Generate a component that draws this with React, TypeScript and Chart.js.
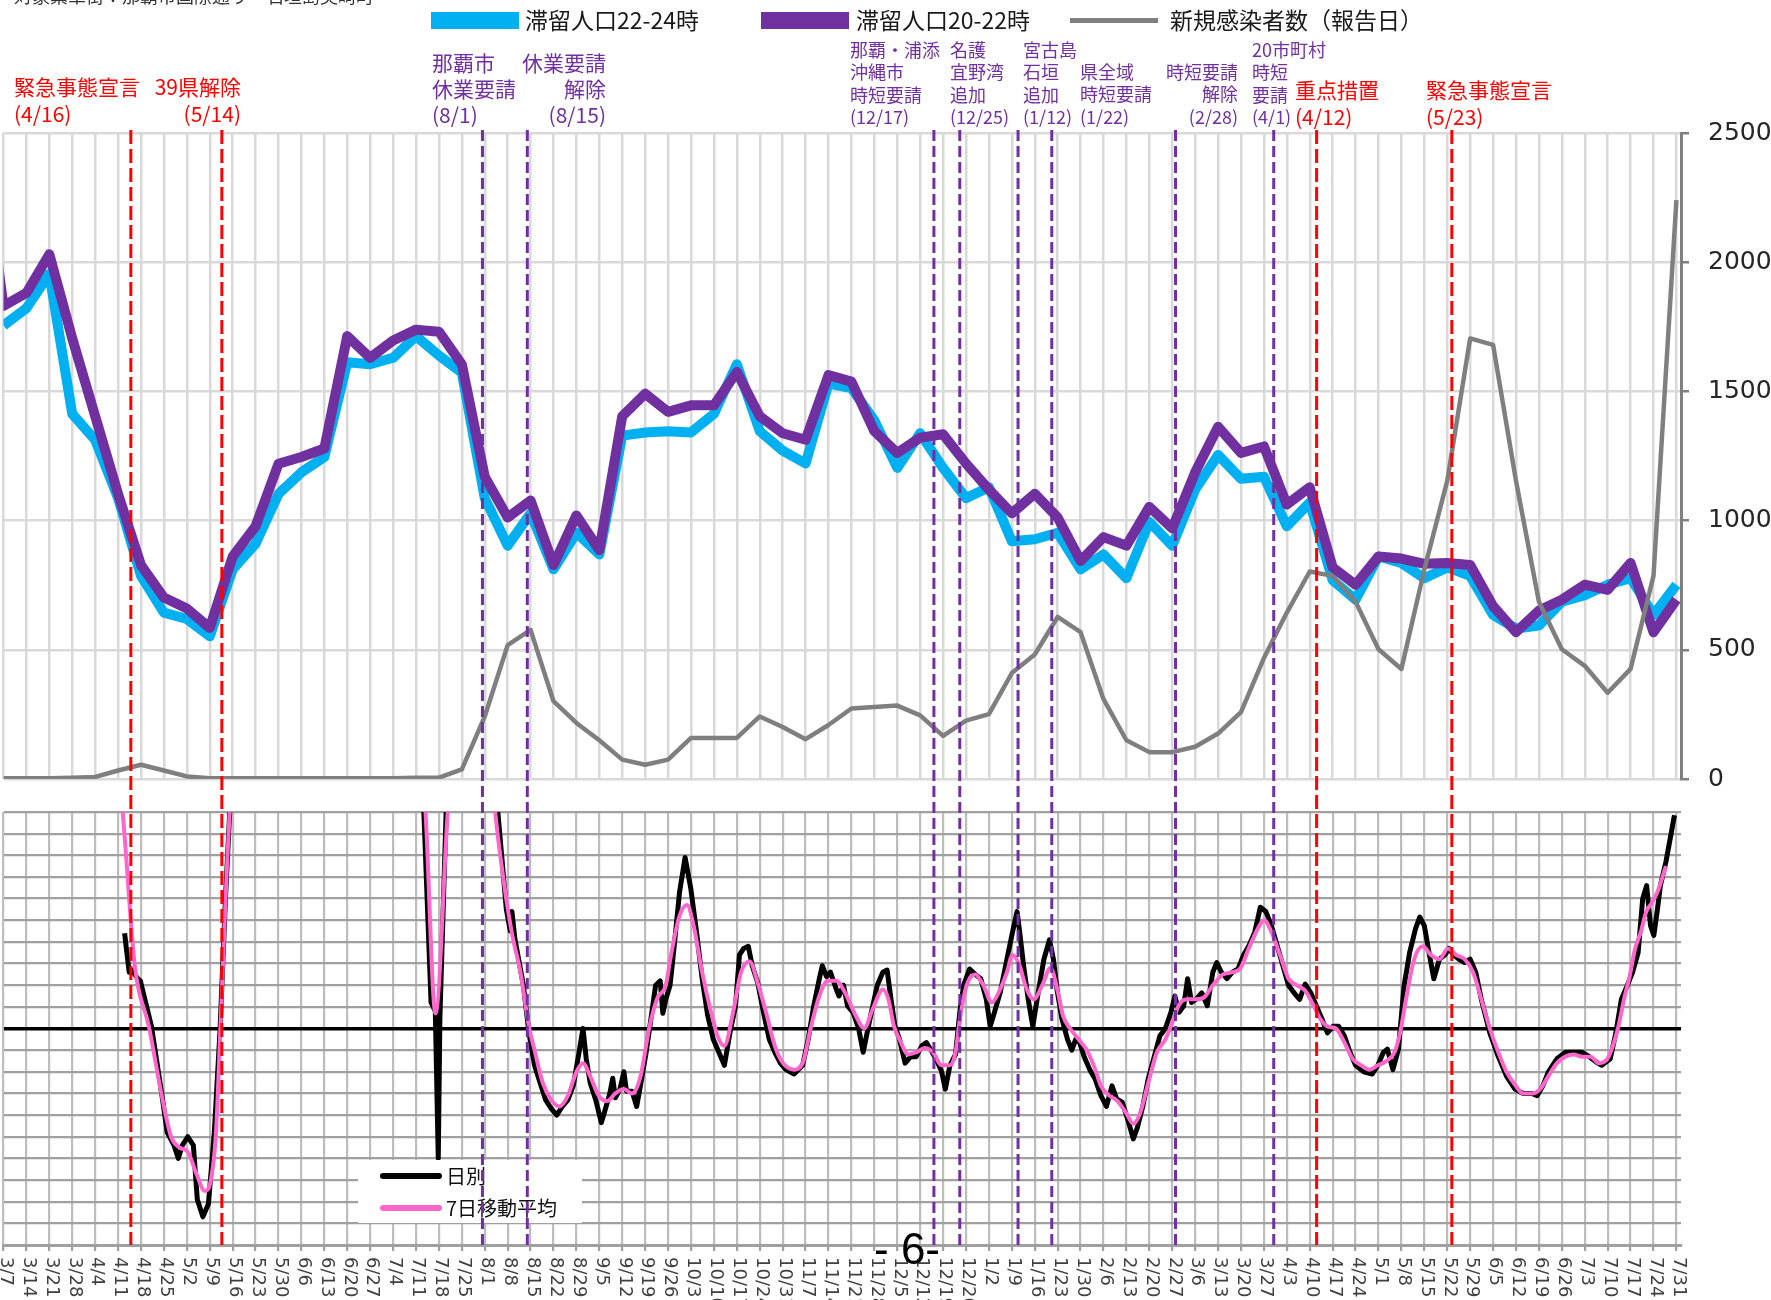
import React, { useEffect, useRef } from 'react';
import { Chart, registerables } from 'chart.js';

Chart.register(...registerables);

// ---------------- data ----------------
const weekLabels = [
  '3/7', '3/14', '3/21', '3/28', '4/4', '4/11', '4/18', '4/25', '5/2', '5/9', '5/16', '5/23', '5/30',
  '6/6', '6/13', '6/20', '6/27', '7/4', '7/11', '7/18', '7/25', '8/1', '8/8', '8/15', '8/22', '8/29',
  '9/5', '9/12', '9/19', '9/26', '10/3', '10/10', '10/17', '10/24', '10/31', '11/7', '11/14', '11/21', '11/28',
  '12/5', '12/12', '12/19', '12/26', '1/2', '1/9', '1/16', '1/23', '1/30', '2/6', '2/13', '2/20', '2/27',
  '3/6', '3/13', '3/20', '3/27', '4/3', '4/10', '4/17', '4/24', '5/1', '5/8', '5/15', '5/22', '5/29',
  '6/5', '6/12', '6/19', '6/26', '7/3', '7/10', '7/17', '7/24', '7/31',
];
// days since 2020-03-07 for each weekly label
const weekDays = weekLabels.map((_, i) => i * 7);

// 滞留人口22-24時 (weekly)
const stay2224 = [
  1755, 1822, 1955, 1413, 1312, 1087, 786, 644, 619, 552, 811, 911, 1103, 1187, 1246, 1613, 1605, 1630, 1714, 1639,
  1572, 1087, 903, 1028, 811, 953, 869, 1329, 1341, 1346, 1341, 1413, 1605, 1346, 1271, 1221, 1530, 1513, 1388, 1204,
  1338, 1204, 1087, 1129, 920, 928, 953, 811, 869, 777, 995, 903, 1120, 1254, 1162, 1170, 978, 1070, 769, 694,
  861, 836, 777, 819, 786, 635, 582, 594, 686, 711, 752, 777, 635, 752,
];
// 滞留人口20-22時 (weekly)
const stay2022 = [
  1831, 1881, 2031, 1705, 1404, 1103, 828, 702, 660, 585, 861, 978, 1220, 1246, 1279, 1714, 1630, 1697, 1739, 1731,
  1605, 1170, 1012, 1078, 828, 1020, 886, 1404, 1491, 1421, 1446, 1446, 1575, 1404, 1338, 1313, 1563, 1538, 1346, 1262,
  1321, 1334, 1221, 1120, 1028, 1104, 1012, 844, 936, 903, 1053, 970, 1187, 1363, 1262, 1287, 1062, 1129, 819, 752,
  861, 853, 833, 836, 828, 669, 568, 652, 694, 752, 732, 836, 568, 694,
];
const stay2022Before = 2500; // week before 3/7 (2/29), outside the axis
// 新規感染者数（報告日） (weekly)
const newCases = [
  3, 3, 3, 5, 8, 33, 55, 33, 10, 3, 3, 3, 3, 3, 3, 3, 3, 3, 5, 5,
  37, 242, 518, 577, 301, 217, 150, 75, 55, 75, 159, 159, 159, 242, 201, 154, 209, 273, 279, 284,
  246, 167, 226, 251, 410, 482, 627, 568, 309, 150, 104, 104, 125, 176, 259, 468, 644, 803, 786, 686,
  502, 426, 811, 1154, 1705, 1680, 1154, 686, 502, 438, 334, 426, 786, 2240,
];

// lower panel: 日別 [day, value]
const dailyA = [
  [37.0, 4.4], [37.6, 3.6], [38.4, 2.6], [39.2, 2.7], [41.0, 2.3], [41.8, 2.2], [45.2, 0.1], [48.6, -3.3], [50.0, -4.8],
  [52.1, -5.4], [53.4, -6.0], [54.6, -5.4], [56.3, -5.0], [58.0, -5.4], [59.2, -7.9], [60.9, -8.7], [62.6, -8.1],
  [64.4, -4.8], [66.1, -0.2], [67.8, 6.0], [69.1, 10], [71, 15],
];
const dailyB = [[126.5, 15], [128.4, 10], [130.6, 1.2], [131.9, 0.8], [132.8, -6.0], [133.3, 0.5], [135.2, 10], [137, 15]];
const dailyC = [
  [148, 15], [151, 10], [153.6, 5.5], [154.8, 4.5], [155.3, 5.4], [156.2, 4.15], [158.8, 2.0], [160.5, -0.2], [162.2, -1.7],
  [163.9, -2.5], [165.6, -3.3], [167.3, -3.7], [169.0, -4.0], [170.7, -3.6], [172.4, -3.3], [174.1, -2.6], [175.8, -1.1],
  [177.0, 0.0], [178.0, -1.4], [179.2, -2.5], [180.9, -3.3], [182.6, -4.35], [183.5, -3.9], [185.2, -3.0], [186.1, -2.3],
  [186.9, -3.2], [188.3, -2.8], [189.5, -2.0], [190.3, -2.9], [192.0, -2.9], [193.4, -3.6], [194.6, -2.6], [196.3, -1.1],
  [198.0, 0.7], [199.2, 2.0], [200.6, 2.2], [201.4, 0.7], [202.3, 1.35], [203.6, 2.0], [204.8, 3.7], [206.5, 6.3],
  [208.2, 7.9], [209.9, 6.5], [211.7, 4.45], [213.4, 2.3], [215.1, 0.6], [216.8, -0.5], [218.5, -1.1], [220.2, -1.7],
  [221.9, -0.2], [223.6, 1.05], [224.8, 3.4], [226.1, 3.7], [227.5, 3.8], [228.7, 2.9], [230.4, 2.1], [232.2, 0.7],
  [233.9, -0.5], [235.6, -1.1], [237.3, -1.6], [239.0, -1.9], [241.5, -2.1], [244.1, -1.7], [245.8, -0.5], [247.5, 1.05],
  [249.2, 2.3], [250.1, 2.9], [251.4, 2.4], [252.6, 2.6], [254.4, 1.8], [255.2, 1.5], [256.6, 2.0], [257.8, 1.05],
  [259.5, 0.75], [261.2, 0], [262.6, -1.1], [263.8, -0.2], [265.1, 0.75], [266.9, 2.0], [268.6, 2.6], [269.9, 2.7],
  [271.1, 1.35], [272.3, 0.1], [273.7, -0.5], [275.4, -1.6], [277.1, -1.3], [278.8, -1.3], [280.5, -0.8], [281.9, -0.65],
  [283.1, -0.95], [284.8, -1.4], [286.5, -1.96], [287.7, -2.8], [289.1, -1.7], [290.8, -1.2], [292.1, 0.75], [293.3, 2.0],
  [295.1, 2.75], [296.8, 2.5], [298.5, 2.3], [300.2, 1.35], [301.4, 0.1], [302.7, 0.75], [304.5, 1.7], [306.5, 3.2],
  [308.2, 4.45], [309.6, 5.4], [310.4, 4.45], [311.6, 2.9], [313.0, 1.35], [314.4, 0.1], [316.1, 1.7], [317.8, 3.2],
  [319.5, 4.1], [320.7, 3.2], [321.9, 1.7], [323.3, 0.45], [325.0, -0.5], [326.3, -1.0], [327.5, -0.5], [328.7, -0.65],
  [330.1, -1.3], [331.8, -1.9], [333.5, -2.35], [335.2, -3.1], [336.9, -3.6], [338.6, -2.65], [340.0, -3.25], [341.7, -3.4],
  [343.4, -4.2], [345.1, -5.1], [346.3, -4.6], [348.0, -3.6], [349.7, -2.3], [351.5, -1.3], [353.2, -0.35], [354.9, 0],
  [356.6, 0.75], [357.8, 1.5], [359.1, 0.75], [360.5, 1.05], [361.7, 2.3], [362.9, 1.2], [364.3, 1.35], [366.0, 1.65],
  [367.7, 1.05], [369.4, 2.6], [370.6, 3.05], [372.0, 2.6], [373.7, 2.3], [375.4, 2.6], [377.1, 2.75], [378.8, 3.4],
  [380.5, 3.85], [382.2, 4.45], [383.9, 5.6], [385.6, 5.4], [387.3, 4.75], [389.0, 3.85], [390.8, 2.9], [392.5, 2.0],
  [394.2, 1.65], [395.9, 1.35], [397.6, 2.05], [399.3, 1.65], [401.0, 1.05], [402.7, 0.45], [404.4, -0.2], [406.1, 0.1],
  [407.8, 0.1], [409.6, -0.35], [411.3, -1.1], [413.0, -1.7], [415.5, -2.0], [418.1, -2.1], [419.8, -1.7], [421.5, -1.1],
  [422.7, -0.95], [424.4, -1.9], [426.1, -0.95], [427.8, 1.95], [429.5, 3.5], [431.3, 4.6], [432.6, 5.15], [434.0, 4.75],
  [435.2, 3.7], [436.9, 2.3], [438.6, 3.2], [440.3, 3.4], [441.5, 3.7], [442.9, 3.4], [444.6, 3.2], [446.3, 3.05],
  [448.0, 3.2], [449.7, 2.6], [451.4, 1.35], [454.0, -0.2], [456.6, -1.3], [459.1, -2.2], [461.7, -2.8], [464.2, -3.0],
  [466.8, -3.0], [468.5, -3.1], [470.2, -2.65], [471.9, -2.0], [474.5, -1.4], [477.1, -1.1], [479.6, -1.1], [482.2, -1.1],
  [483.9, -1.25], [486.5, -1.55], [488.2, -1.7], [490.8, -1.4], [492.5, -0.2], [494.2, 1.35], [495.9, 1.95], [497.6, 2.6],
  [499.3, 3.5], [500.7, 6.0], [501.9, 6.6], [503.1, 4.75], [504.1, 4.3], [505.2, 5.5], [506.1, 6.6], [507.8, 7.7],
  [509.5, 9.1], [510.4, 9.85],
];

// lower panel: 7日移動平均 [day, value]
const avgA = [
  [33, 15], [36.4, 10], [40.1, 2.9], [44.4, 0.1], [48.6, -3.3], [51.2, -5.0], [53.8, -5.5], [56.3, -5.7], [58.9, -6.7],
  [61.5, -7.5], [63.2, -7.1], [64.9, -4.8], [66.2, -0.2], [67.4, 4.4], [69.1, 10], [72, 15],
];
const avgB = [[126, 15], [128.9, 10], [131.95, 0.7], [135.7, 10], [138.5, 15]];
const avgC = [
  [147.5, 15], [150.2, 10], [152.8, 6.8], [155.3, 4.4], [157.9, 2.6], [160.5, 0.1], [162.2, -1.0], [164.7, -2.5],
  [167.3, -3.3], [169.8, -3.6], [172.4, -3.1], [175.0, -2.0], [177.0, -1.6], [179.2, -2.2], [181.8, -3.1], [184.4, -3.35],
  [186.9, -3.0], [189.5, -2.8], [192.0, -3.0], [194.6, -2.2], [197.2, 0], [199.7, 1.4], [202.3, 2.0], [203.9, 3.4],
  [206.5, 5.2], [208.8, 5.7], [210.8, 4.75], [213.4, 2.6], [215.9, 0.9], [218.5, -0.5], [220.2, -0.8], [222.8, 0.7],
  [225.3, 2.6], [227.9, 3.1], [230.4, 2.1], [233.0, 0.7], [235.6, -0.8], [238.1, -1.6], [241.5, -1.9], [244.1, -1.6],
  [246.7, 0.1], [249.2, 1.5], [251.8, 2.2], [254.4, 2.2], [256.9, 1.7], [260.3, 0.6], [262.9, 0], [265.5, 0.9],
  [268.6, 1.8], [270.3, 1.35], [272, 0.1], [273.7, -0.5], [276.3, -1.2], [278.8, -1.1], [281.4, -0.9], [283.9, -1.1],
  [286.5, -1.7], [289.1, -1.7], [290.8, -1.1], [292.1, 0.4], [294.2, 2.0], [296.8, 2.5], [299.3, 2.0], [301.9, 1.2],
  [304.1, 1.7], [306.5, 2.6], [308.2, 3.4], [310.4, 2.9], [312.1, 2.0], [314.7, 1.35], [317.3, 2.0], [319.8, 2.8],
  [321.9, 1.8], [323.6, 0.6], [325.8, 0], [328.4, -0.5], [330.9, -1.0], [333.5, -1.9], [335.2, -2.65], [337.8, -3.1],
  [340.3, -3.35], [342.9, -3.9], [345.1, -4.4], [347.2, -3.9], [349.7, -2.5], [352.3, -1.1], [354.9, -0.5], [357.1, 0.3],
  [359.1, 1.1], [361.7, 1.35], [364.3, 1.35], [366.8, 1.45], [369.4, 2.0], [372.5, 2.5], [375.4, 2.6], [377.9, 2.8],
  [380.5, 3.75], [383.1, 4.6], [385.1, 5.0], [387.3, 4.45], [389.9, 3.4], [392.5, 2.3], [395.0, 2.0], [397.6, 1.75],
  [400.2, 1.05], [402.2, 0.45], [404.4, 0.1], [407.0, 0], [409.6, -0.65], [412.1, -1.4], [414.7, -1.7], [417.2, -1.9],
  [419.8, -1.7], [422.4, -1.5], [424.9, -1.1], [426.6, -0.2], [428.4, 1.35], [430.9, 3.2], [433.5, 3.8], [436.0, 3.4],
  [438.6, 3.2], [441.2, 3.7], [443.7, 3.4], [446.3, 3.2], [448.9, 2.6], [451.4, 1.35], [454.0, 0], [456.6, -1.1],
  [459.1, -2.0], [461.7, -2.6], [464.2, -3.0], [466.8, -3.0], [469.4, -2.8], [471.9, -2.2], [474.5, -1.6], [477.1, -1.3],
  [479.6, -1.2], [482.2, -1.3], [484.8, -1.3], [487.3, -1.6], [489.9, -1.4], [491.6, -0.8], [493.3, 0.1], [495.0, 1.35],
  [496.7, 2.4], [498.4, 3.7], [500.1, 4.45], [501.8, 5.4], [503.5, 5.8], [505.2, 6.3], [507.8, 7.5],
];

// policy event lines (day position on the axis) and their kind
const eventDays = [38.9, 66.7, 146.3, 160.0, 284.2, 292.1, 309.9, 320.2, 358.0, 388.0, 401.1, 442.4];
const eventKinds = ['red', 'red', 'purple', 'purple', 'purple', 'purple', 'purple', 'purple', 'purple', 'purple', 'red', 'red'];

const legendTop = ['滞留人口22-24時', '滞留人口20-22時', '新規感染者数（報告日）'];
const legendBottom = ['日別', '7日移動平均'];
const headerText = '対象繁華街：那覇市国際通り・石垣島美崎町';
const pageNumber = '- 6-';

const annoTexts = [
  ['緊急事態宣言', '(4/16)'],
  ['39県解除', '(5/14)'],
  ['那覇市', '休業要請', '(8/1)'],
  ['休業要請', '解除', '(8/15)'],
  ['那覇・浦添', '沖縄市', '時短要請', '(12/17)'],
  ['名護', '宜野湾', '追加', '(12/25)'],
  ['宮古島', '石垣', '追加', '(1/12)'],
  ['県全域', '時短要請', '(1/22)'],
  ['時短要請', '解除', '(2/28)'],
  ['20市町村', '時短', '要請', '(4/1)'],
  ['重点措置', '(4/12)'],
  ['緊急事態宣言', '(5/23)'],
];

// ---------------- layout / style ----------------
const X_MAX = 512.4;
const W = 1771;
const TOP_H = 795;
const BOT_H = 505;
const DASH_Y0 = 130;
const RED = '#ff0000';
const PURPLE = '#7030a0';
const CJK = '"Noto Sans CJK JP", "Noto Sans", sans-serif';

// placement of annotation blocks: [x, align, firstRowY, rowStep, fontSize, color]
const annoLayout: [number, CanvasTextAlign, number, number, number, string][] = [
  [14, 'left', 87, 27.5, 21, RED],
  [241, 'right', 87, 27.5, 21, RED],
  [432, 'left', 63, 26, 21, PURPLE],
  [606, 'right', 63, 26, 21, PURPLE],
  [850, 'left', 50, 22.4, 18, PURPLE],
  [950, 'left', 50, 22.4, 18, PURPLE],
  [1023, 'left', 50, 22.4, 18, PURPLE],
  [1080, 'left', 72, 22.4, 18, PURPLE],
  [1238, 'right', 72, 22.4, 18, PURPLE],
  [1252, 'left', 50, 22.4, 18, PURPLE],
  [1295, 'left', 90, 27, 21, RED],
  [1426, 'left', 90.5, 27, 21, RED],
];

const toPts = (arr: number[][]) => arr.map(([x, y]) => ({ x, y }));
const joinSegs = (...segs: number[][][]) => {
  const out: { x: number; y: number | null }[] = [];
  segs.forEach((s, i) => {
    if (i > 0) out.push({ x: (segs[i - 1][segs[i - 1].length - 1][0] + s[0][0]) / 2, y: null });
    out.push(...toPts(s));
  });
  return out;
};

function drawEventLines(chart: any, y0: number, y1: number, phase: number) {
  const ctx = chart.ctx;
  const xs = chart.scales.x;
  eventDays.forEach((d, i) => {
    const red = eventKinds[i] === 'red';
    const x = xs.getPixelForValue(d);
    const dash = red ? [14, 5] : [11, 5];
    const period = dash[0] + dash[1];
    ctx.save();
    ctx.strokeStyle = red ? RED : PURPLE;
    ctx.lineWidth = 3;
    ctx.setLineDash(dash);
    ctx.lineDashOffset = phase % period;
    ctx.beginPath();
    ctx.moveTo(x, y0);
    ctx.lineTo(x, y1);
    ctx.stroke();
    ctx.restore();
  });
}

const topOverlay = {
  id: 'topOverlay',
  afterDraw(chart: any) {
    const ctx = chart.ctx;
    drawEventLines(chart, DASH_Y0, TOP_H, 0);
    ctx.save();
    // header (cut off at page top)
    ctx.fillStyle = '#333';
    ctx.font = `18px ${CJK}`;
    ctx.textAlign = 'left';
    ctx.textBaseline = 'alphabetic';
    ctx.fillText(headerText, 14, 3);
    // legend
    ctx.textBaseline = 'middle';
    ctx.font = `23px ${CJK}`;
    ctx.fillStyle = '#00b0f0';
    ctx.fillRect(431, 12, 88, 17);
    ctx.fillStyle = '#7030a0';
    ctx.fillRect(761, 12, 88, 17);
    ctx.strokeStyle = '#7f7f7f';
    ctx.lineWidth = 5;
    ctx.beginPath();
    ctx.moveTo(1070, 20.5);
    ctx.lineTo(1158, 20.5);
    ctx.stroke();
    ctx.fillStyle = '#1a1a1a';
    ctx.fillText(legendTop[0], 525, 20);
    ctx.fillText(legendTop[1], 856, 20);
    ctx.fillText(legendTop[2], 1170, 20);
    // annotations
    annoTexts.forEach((lines, i) => {
      const [x, align, y0, dy, size, color] = annoLayout[i];
      ctx.font = `${size}px ${CJK}`;
      ctx.fillStyle = color;
      ctx.textAlign = align;
      lines.forEach((t, j) => ctx.fillText(t, x, y0 + j * dy));
    });
    ctx.restore();
  },
};

const bottomOverlay = {
  id: 'bottomOverlay',
  afterDatasetsDraw(chart: any) {
    const ctx = chart.ctx;
    const area = chart.chartArea;
    ctx.save();
    // legend box
    ctx.fillStyle = '#fff';
    ctx.fillRect(358, 365, 224, 63);
    ctx.lineCap = 'round';
    ctx.lineWidth = 6;
    ctx.strokeStyle = '#000';
    ctx.beginPath();
    ctx.moveTo(383, 381);
    ctx.lineTo(439, 381);
    ctx.stroke();
    ctx.strokeStyle = '#ff66cc';
    ctx.beginPath();
    ctx.moveTo(383, 413);
    ctx.lineTo(439, 413);
    ctx.stroke();
    ctx.fillStyle = '#111';
    ctx.font = `20px ${CJK}`;
    ctx.textAlign = 'left';
    ctx.textBaseline = 'middle';
    ctx.fillText(legendBottom[0], 446, 381);
    ctx.fillText(legendBottom[1], 446, 413);
    ctx.restore();
    drawEventLines(chart, 0, area.bottom, TOP_H - DASH_Y0);
  },
  afterDraw(chart: any) {
    const ctx = chart.ctx;
    const xs = chart.scales.x;
    const area = chart.chartArea;
    ctx.save();
    ctx.fillStyle = '#404040';
    ctx.font = '18px "DejaVu Sans", sans-serif';
    ctx.textAlign = 'left';
    ctx.textBaseline = 'middle';
    weekLabels.forEach((lab, i) => {
      const x = xs.getPixelForValue(weekDays[i]);
      ctx.save();
      ctx.translate(x + 2, area.bottom + 12);
      ctx.rotate(Math.PI / 2);
      ctx.fillText(lab, 0, 0);
      ctx.restore();
    });
    ctx.fillStyle = '#000';
    ctx.font = '44px "Liberation Sans", Arial, sans-serif';
    ctx.textAlign = 'center';
    ctx.fillText(pageNumber, 907, 457);
    ctx.restore();
  },
};

const weeklyTicks = (scale: any) => {
  scale.ticks = weekDays.map((v) => ({ value: v }));
};

export default function App() {
  const topRef = useRef<HTMLCanvasElement>(null);
  const botRef = useRef<HTMLCanvasElement>(null);

  useEffect(() => {
    if (!topRef.current || !botRef.current) return;

    const top = new Chart(topRef.current, {
      type: 'line',
      data: {
        datasets: [
          {
            label: legendTop[0],
            data: stay2224.map((v, i) => ({ x: weekDays[i], y: v })),
            borderColor: '#00b0f0',
            borderWidth: 10,
            pointRadius: 0,
            tension: 0,
            borderJoinStyle: 'round',
            order: 3,
          },
          {
            label: legendTop[1],
            data: [{ x: -7, y: stay2022Before }, ...stay2022.map((v, i) => ({ x: weekDays[i], y: v }))],
            borderColor: '#7030a0',
            borderWidth: 10,
            pointRadius: 0,
            tension: 0,
            borderJoinStyle: 'round',
            order: 2,
          },
          {
            label: legendTop[2],
            data: newCases.map((v, i) => ({ x: weekDays[i], y: v })),
            borderColor: '#7f7f7f',
            borderWidth: 4.5,
            pointRadius: 0,
            tension: 0,
            borderJoinStyle: 'round',
            order: 1,
          },
        ],
      },
      options: {
        responsive: false,
        animation: false,
        events: [],
        layout: { padding: { left: 3.5, right: 0, top: 133, bottom: 16 } },
        plugins: { legend: { display: false }, tooltip: { enabled: false } },
        scales: {
          x: {
            type: 'linear',
            min: 0,
            max: X_MAX,
            afterBuildTicks: weeklyTicks,
            ticks: { display: false },
            grid: { color: '#d9d9d9', lineWidth: 2.5, drawTicks: false },
            border: { display: false },
            afterFit: (s: any) => { s.height = 0; },
          },
          y: {
            position: 'right',
            min: 0,
            max: 2500,
            ticks: {
              stepSize: 500,
              padding: 19,
              color: '#262626',
              font: { family: '"DejaVu Sans", sans-serif', size: 25 },
              callback: (v: any) => String(v),
            },
            grid: { color: '#d9d9d9', lineWidth: 2.5, drawTicks: true, tickLength: 8, tickColor: '#808080' },
            border: { display: true, color: '#808080', width: 3 },
            afterFit: (s: any) => {
              s.width = 90;
              s.paddingTop = 0;
              s.paddingBottom = 0;
            },
          },
        },
      },
      plugins: [topOverlay],
    } as any);

    const bottom = new Chart(botRef.current, {
      type: 'line',
      data: {
        datasets: [
          {
            label: legendBottom[1],
            data: joinSegs(avgA, avgB, avgC),
            borderColor: '#ff66cc',
            borderWidth: 4,
            pointRadius: 0,
            cubicInterpolationMode: 'monotone',
            clip: 0,
            order: 1,
          },
          {
            label: legendBottom[0],
            data: joinSegs(dailyA, dailyB, dailyC),
            borderColor: '#000000',
            borderWidth: 5,
            pointRadius: 0,
            tension: 0,
            borderJoinStyle: 'round',
            clip: 0,
            order: 2,
          },
        ],
      },
      options: {
        responsive: false,
        animation: false,
        events: [],
        layout: { padding: { left: 3.5, right: 90, top: 17, bottom: 0 } },
        plugins: { legend: { display: false }, tooltip: { enabled: false } },
        scales: {
          x: {
            type: 'linear',
            min: 0,
            max: X_MAX,
            afterBuildTicks: weeklyTicks,
            ticks: { display: false },
            grid: { color: '#bdbdbd', lineWidth: 2.2, drawTicks: true, tickLength: 6, tickColor: '#a0a0a0' },
            border: { display: true, color: '#a0a0a0', width: 3 },
            afterFit: (s: any) => { s.height = 55; },
          },
          y: {
            min: -10,
            max: 10,
            afterBuildTicks: (s: any) => {
              s.ticks = Array.from({ length: 21 }, (_, i) => ({ value: i - 10 }));
            },
            ticks: { display: false },
            grid: {
              color: (c: any) => (c.tick && c.tick.value === 0 ? '#000000' : '#a0a0a0'),
              lineWidth: (c: any) => (c.tick && c.tick.value === 0 ? 3.5 : 2.2),
              drawTicks: false,
            },
            border: { display: false },
            afterFit: (s: any) => { s.width = 0; },
          },
        },
      },
      plugins: [bottomOverlay],
    } as any);

    return () => {
      top.destroy();
      bottom.destroy();
    };
  }, []);

  return (
    <div style={{ position: 'absolute', left: 0, top: 0, width: W, height: TOP_H + BOT_H, background: '#fff', overflow: 'hidden' }}>
      <canvas ref={topRef} width={W} height={TOP_H} style={{ position: 'absolute', left: 0, top: 0 }} />
      <canvas ref={botRef} width={W} height={BOT_H} style={{ position: 'absolute', left: 0, top: TOP_H }} />
    </div>
  );
}
